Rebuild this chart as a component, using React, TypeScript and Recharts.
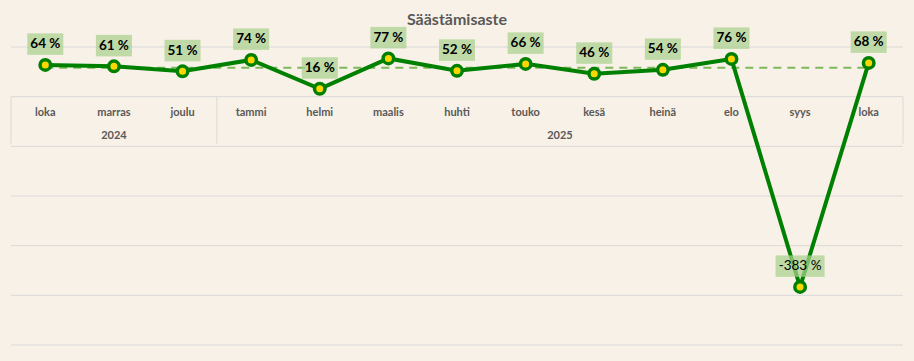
import React from "react";
import {
  LineChart, Line, XAxis, YAxis, CartesianGrid,
  ReferenceLine, ReferenceDot, LabelList,
} from "recharts";

// Säästämisaste, lokakuu 2024 – lokakuu 2025
const months = ["loka", "marras", "joulu", "tammi", "helmi", "maalis", "huhti", "touko", "kesä", "heinä", "elo", "syys", "loka"];
const years = ["2024", "2024", "2024", "2025", "2025", "2025", "2025", "2025", "2025", "2025", "2025", "2025", "2025"];
const savingsRate = [64, 61, 51, 74, 16, 77, 52, 66, 46, 54, 76, -383, 68];
const averageRate = 58;
const yTicks = [-500, -400, -300, -200, -100, 0, 100];

const W = 914;
const H = 361;
const FONT = "Lato, 'Open Sans', sans-serif";
const BG = "#F8F1E7";
const GRID = "#D9D9D9";
const TEXT = "#595959";

const data = months.map((m, i) => ({ i, month: m, year: years[i], rate: savingsRate[i] }));

// one group per year -> first/last index, centre for the year label
const yearGroups = Array.from(new Set(years)).map((y) => {
  const idx = data.filter((d) => d.year === y).map((d) => d.i);
  const first = Math.min(...idx);
  const last = Math.max(...idx);
  return { year: y, first, last, center: (first + last) / 2 };
});
const separators = [...yearGroups.map((g) => g.first - 0.5), yearGroups[yearGroups.length - 1].last + 0.5];

function RateLabel(props: any) {
  const { x, y, value } = props;
  if (x == null || y == null) return null;
  const text = `${value} %`;
  const w = 36 + (text.length - 4) * 6.5;
  return (
    <g>
      <rect x={x - w / 2} y={y - 31.5} width={w} height={21.5} fill="#A9D18E" fillOpacity={0.72} />
      <text
        x={x}
        y={y - 16.5}
        textAnchor="middle"
        fontSize={13.5}
        fontFamily={FONT}
        fontWeight={value < 0 ? 400 : 700}
        fill="#000"
      >
        {text}
      </text>
    </g>
  );
}

function AxisText({ cx, cy, text }: any) {
  return (
    <text x={cx} y={cy} textAnchor="middle" dominantBaseline="central" fontSize={11} fontFamily={FONT} fontWeight={700} fill={TEXT}>
      {text}
    </text>
  );
}

export default function App() {
  return (
    <div style={{ position: "fixed", left: 0, top: 0, width: W, height: H, background: BG, fontFamily: FONT }}>
      <div
        style={{
          position: "absolute", top: 9, left: 0, width: W, textAlign: "center",
          fontSize: 16, lineHeight: "20px", fontWeight: 700, color: TEXT,
        }}
      >
        Säästämisaste
      </div>
      <LineChart width={W} height={H} data={data} margin={{ top: 47, right: 11, bottom: 16, left: 11 }}>
        <CartesianGrid vertical={false} stroke={GRID} strokeWidth={1} />
        <XAxis type="number" dataKey="i" domain={[-0.5, 12.5]} hide />
        <YAxis type="number" domain={[-500, 100]} ticks={yTicks} hide />

        {/* category axis box sitting at 0 */}
        {separators.map((s) => (
          <ReferenceLine key={s} segment={[{ x: s, y: 0 }, { x: s, y: -95 }]} stroke={GRID} strokeWidth={1} />
        ))}
        {data.map((d) => (
          <ReferenceDot key={`m${d.i}`} x={d.i} y={-30} r={0} shape={(p: any) => <AxisText {...p} text={d.month} />} />
        ))}
        {yearGroups.map((g) => (
          <ReferenceDot key={g.year} x={g.center} y={-77} r={0} shape={(p: any) => <AxisText {...p} text={g.year} />} />
        ))}

        <ReferenceLine
          segment={[{ x: 0, y: averageRate }, { x: data.length - 1, y: averageRate }]}
          stroke="#7DB85A"
          strokeWidth={2}
          strokeDasharray="8 6"
        />

        <Line
          type="linear"
          dataKey="rate"
          stroke="#008000"
          strokeWidth={4}
          dot={{ r: 5.25, fill: "#FFD700", stroke: "#008000", strokeWidth: 3.5 }}
          activeDot={false}
          isAnimationActive={false}
        >
          <LabelList dataKey="rate" content={<RateLabel />} />
        </Line>
      </LineChart>
    </div>
  );
}
